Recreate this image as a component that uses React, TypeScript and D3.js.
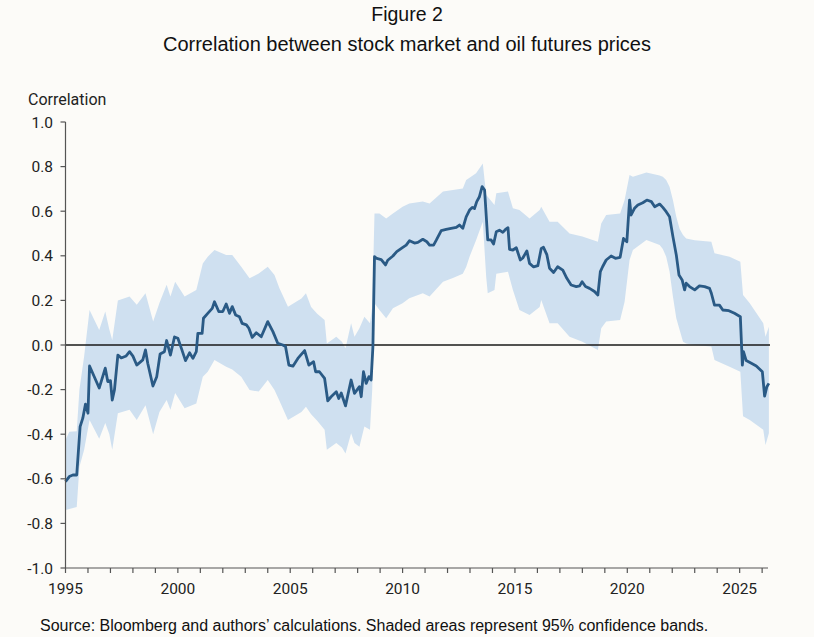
import React from "react";
import * as d3 from "d3";

const lineYears = [1995.0,1995.17,1995.33,1995.5,1995.65,1995.77,1995.89,1996.0,1996.07,1996.5,1996.77,1996.88,1997.0,1997.08,1997.18,1997.33,1997.48,1997.7,1997.85,1998.0,1998.17,1998.44,1998.56,1998.66,1998.89,1999.06,1999.21,1999.4,1999.5,1999.67,1999.85,2000.0,2000.15,2000.34,2000.52,2000.67,2000.82,2000.89,2001.08,2001.14,2001.33,2001.53,2001.63,2001.82,2002.0,2002.15,2002.3,2002.42,2002.57,2002.74,2002.86,2003.05,2003.16,2003.31,2003.49,2003.71,2004.0,2004.23,2004.45,2004.67,2004.79,2004.94,2005.12,2005.34,2005.64,2005.83,2006.04,2006.13,2006.3,2006.53,2006.67,2006.82,2007.05,2007.16,2007.27,2007.46,2007.71,2007.86,2008.08,2008.16,2008.26,2008.38,2008.5,2008.6,2008.68,2008.75,2008.85,2009.05,2009.24,2009.34,2009.57,2009.74,2010.01,2010.16,2010.31,2010.53,2010.68,2010.9,2011.08,2011.2,2011.38,2011.5,2011.72,2011.94,2012.16,2012.39,2012.53,2012.68,2012.83,2012.98,2013.1,2013.2,2013.3,2013.42,2013.54,2013.65,2013.79,2013.94,2014.05,2014.17,2014.31,2014.46,2014.58,2014.69,2014.76,2014.91,2015.06,2015.24,2015.35,2015.53,2015.65,2015.83,2016.02,2016.17,2016.27,2016.42,2016.54,2016.72,2016.9,2017.13,2017.31,2017.5,2017.73,2017.88,2017.99,2018.14,2018.32,2018.54,2018.69,2018.8,2018.9,2019.06,2019.28,2019.47,2019.68,2019.83,2019.98,2020.1,2020.17,2020.32,2020.47,2020.69,2020.87,2021.07,2021.22,2021.44,2021.58,2021.73,2021.88,2022.03,2022.18,2022.3,2022.44,2022.55,2022.62,2022.77,2023.0,2023.21,2023.44,2023.66,2023.74,2023.88,2024.1,2024.25,2024.52,2024.77,2025.03,2025.12,2025.17,2025.29,2025.52,2025.74,2026.01,2026.11,2026.21,2026.3];

const correlation = [-0.613,-0.59,-0.583,-0.583,-0.366,-0.328,-0.265,-0.306,-0.094,-0.193,-0.104,-0.164,-0.16,-0.247,-0.2,-0.045,-0.058,-0.049,-0.03,-0.05,-0.09,-0.067,-0.022,-0.082,-0.184,-0.142,-0.04,-0.03,0.02,-0.045,0.036,0.03,-0.013,-0.07,-0.035,-0.06,-0.03,0.052,0.052,0.12,0.142,0.164,0.194,0.15,0.15,0.184,0.142,0.172,0.135,0.127,0.097,0.09,0.075,0.034,0.055,0.037,0.105,0.06,0.007,0.0,-0.007,-0.09,-0.095,-0.06,-0.025,-0.09,-0.075,-0.12,-0.12,-0.15,-0.25,-0.232,-0.21,-0.24,-0.215,-0.273,-0.157,-0.217,-0.187,-0.232,-0.12,-0.172,-0.142,-0.157,-0.007,0.396,0.388,0.383,0.359,0.38,0.399,0.419,0.438,0.448,0.468,0.457,0.46,0.474,0.463,0.448,0.448,0.47,0.513,0.518,0.523,0.527,0.538,0.523,0.575,0.605,0.617,0.612,0.643,0.665,0.71,0.695,0.471,0.471,0.453,0.508,0.515,0.505,0.518,0.526,0.429,0.426,0.436,0.381,0.39,0.422,0.366,0.35,0.356,0.433,0.438,0.405,0.344,0.325,0.351,0.336,0.299,0.269,0.262,0.265,0.284,0.262,0.254,0.24,0.224,0.329,0.351,0.381,0.399,0.389,0.393,0.478,0.463,0.65,0.583,0.613,0.628,0.638,0.65,0.643,0.62,0.632,0.617,0.598,0.575,0.486,0.404,0.314,0.292,0.247,0.277,0.262,0.247,0.265,0.262,0.254,0.232,0.179,0.179,0.157,0.154,0.142,0.127,-0.09,-0.03,-0.07,-0.082,-0.094,-0.12,-0.229,-0.187,-0.172];

const bandYears = [1995.0,1995.17,1995.5,1995.62,1995.83,1996.07,1996.5,1996.77,1996.95,1997.08,1997.33,1997.85,1998.17,1998.56,1998.9,1999.18,1999.5,1999.67,1999.88,2000.3,2000.82,2001.11,2001.33,2001.63,2002.15,2002.42,2002.82,2003.19,2003.6,2004.0,2004.3,2004.52,2004.9,2005.5,2005.7,2005.93,2006.2,2006.53,2006.63,2007.05,2007.3,2007.46,2007.71,2007.86,2008.08,2008.3,2008.55,2008.65,2008.75,2008.97,2009.27,2009.57,2010.0,2010.3,2010.9,2011.2,2011.8,2012.24,2012.68,2012.83,2012.98,2013.27,2013.57,2013.72,2013.79,2014.09,2014.17,2014.69,2014.91,2015.2,2015.65,2016.1,2016.17,2016.54,2016.9,2017.43,2018.0,2018.69,2018.84,2019.06,2019.68,2019.88,2020.1,2020.25,2020.85,2021.44,2021.58,2021.73,2021.88,2022.03,2022.18,2022.33,2022.48,2022.62,2023.0,2023.74,2023.88,2024.55,2025.03,2025.15,2025.45,2026.05,2026.15,2026.3];

const bandUpper = [-0.426,-0.389,-0.387,-0.2,-0.05,0.157,0.067,0.15,0.07,0.022,0.2,0.217,0.18,0.232,0.105,0.188,0.27,0.217,0.284,0.217,0.247,0.366,0.396,0.426,0.404,0.404,0.351,0.299,0.321,0.351,0.314,0.254,0.172,0.209,0.232,0.17,0.14,0.112,0.007,0.037,0.015,-0.015,0.097,0.037,0.075,0.127,0.097,0.172,0.59,0.59,0.567,0.59,0.62,0.635,0.643,0.635,0.688,0.695,0.702,0.74,0.75,0.77,0.814,0.673,0.665,0.628,0.68,0.688,0.613,0.605,0.567,0.605,0.62,0.553,0.553,0.5,0.486,0.463,0.545,0.583,0.59,0.65,0.762,0.755,0.773,0.76,0.755,0.74,0.71,0.65,0.575,0.52,0.493,0.478,0.47,0.463,0.411,0.396,0.373,0.224,0.187,0.097,0.037,0.082];

const bandLower = [-0.74,-0.735,-0.727,-0.546,-0.47,-0.336,-0.42,-0.35,-0.4,-0.47,-0.306,-0.29,-0.336,-0.27,-0.4,-0.3,-0.247,-0.29,-0.215,-0.284,-0.262,-0.142,-0.12,-0.067,-0.097,-0.11,-0.142,-0.202,-0.209,-0.157,-0.202,-0.25,-0.336,-0.3,-0.277,-0.31,-0.34,-0.38,-0.47,-0.44,-0.46,-0.486,-0.396,-0.44,-0.456,-0.366,-0.38,-0.2,0.187,0.157,0.12,0.165,0.187,0.21,0.232,0.217,0.284,0.3,0.32,0.35,0.396,0.47,0.553,0.306,0.232,0.247,0.32,0.328,0.247,0.157,0.135,0.17,0.202,0.097,0.097,0.037,0.015,-0.022,0.075,0.105,0.112,0.194,0.381,0.426,0.471,0.448,0.43,0.396,0.33,0.217,0.12,0.067,0.015,0.007,0.0,-0.007,-0.067,-0.097,-0.12,-0.32,-0.336,-0.38,-0.448,-0.396];

const xTickYears = d3.range(1995, 2027);
const xLabelYears = [1995, 2000, 2005, 2010, 2015, 2020, 2025];
const yTicks = [-1.0, -0.8, -0.6, -0.4, -0.2, 0.0, 0.2, 0.4, 0.6, 0.8, 1.0];

const W = 814, H = 637;
const left = 65.5, right = 770, top = 122, bottom = 568;

export default function App() {
  const x = d3.scaleLinear().domain([1995, 2026.35]).range([left, right]);
  const y = d3.scaleLinear().domain([-1, 1]).range([bottom, top]);

  const bandData = bandYears.map((yr, i) => ({ yr, lo: bandLower[i], hi: bandUpper[i] }));
  const lineData = lineYears.map((yr, i) => ({ yr, v: correlation[i] }));

  const area = d3.area<{ yr: number; lo: number; hi: number }>()
    .x(d => x(d.yr)).y0(d => y(d.lo)).y1(d => y(d.hi));
  const line = d3.line<{ yr: number; v: number }>()
    .x(d => x(d.yr)).y(d => y(d.v));

  const tickFont = "Roboto, sans-serif";
  const textFont = "'Liberation Sans', Arial, sans-serif";

  return (
    <div style={{ position: "absolute", left: 0, top: 0 }}>
      <svg width={W} height={H} style={{ display: "block", background: "#fcfbf8" }}>
        <rect x={0} y={0} width={W} height={H} fill="#fcfbf8" />
        <text x={407} y={21} textAnchor="middle" fontFamily={textFont} fontSize={19.5} fill="#111">Figure 2</text>
        <text x={407} y={51} textAnchor="middle" fontFamily={textFont} fontSize={20} fill="#111">Correlation between stock market and oil futures prices</text>
        <text x={28} y={105} fontFamily={tickFont} fontSize={16} fill="#222">Correlation</text>

        <path d={area(bandData) || ""} fill="#cfe0f0" />
        <line x1={left} x2={right} y1={y(0)} y2={y(0)} stroke="#1a1a1a" strokeWidth={1.4} />
        <path d={line(lineData) || ""} fill="none" stroke="#2a5a85" strokeWidth={2.8} strokeLinejoin="round" />

        <line x1={left} x2={left} y1={top} y2={bottom} stroke="#555" strokeWidth={1.2} />
        {yTicks.map(t => (
          <g key={t}>
            <line x1={left - 5} x2={left} y1={y(t)} y2={y(t)} stroke="#555" strokeWidth={1.2} />
            <text x={53} y={y(t) + 5.5} textAnchor="end" fontFamily={tickFont} fontSize={15.5} fill="#222">{t.toFixed(1)}</text>
          </g>
        ))}

        <line x1={left} x2={768} y1={bottom} y2={bottom} stroke="#555" strokeWidth={1.2} />
        {xTickYears.map(t => (
          <line key={t} x1={x(t)} x2={x(t)} y1={bottom} y2={bottom + 5} stroke="#555" strokeWidth={1.2} />
        ))}
        {xLabelYears.map(t => (
          <text key={t} x={x(t)} y={594} textAnchor="middle" fontFamily={tickFont} fontSize={15.5} fill="#222">{t}</text>
        ))}

        <text x={40} y={631} fontFamily={textFont} fontSize={16} fill="#111">Source: Bloomberg and authors’ calculations. Shaded areas represent 95% confidence bands.</text>
      </svg>
    </div>
  );
}
